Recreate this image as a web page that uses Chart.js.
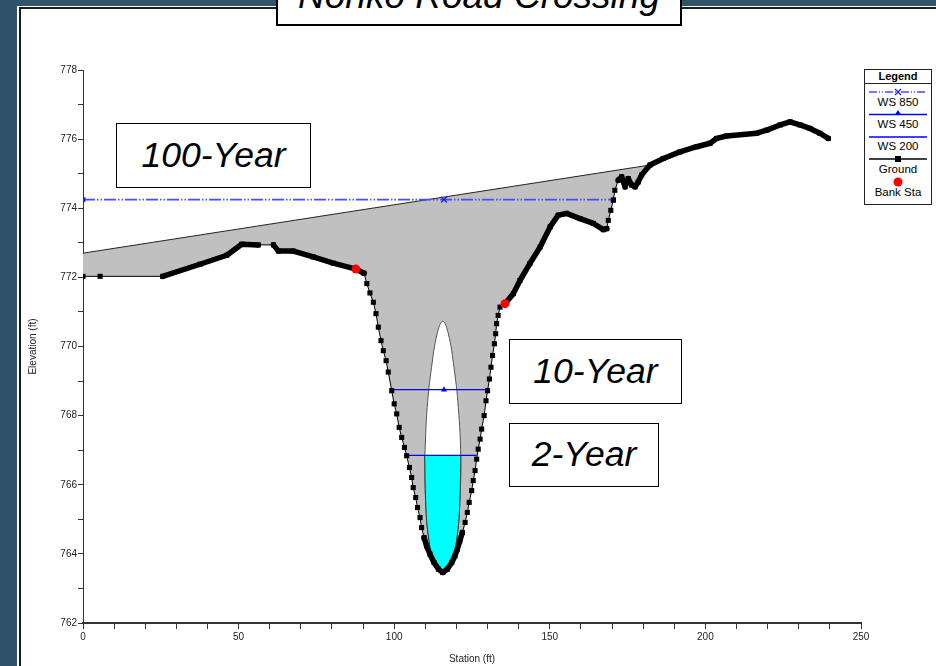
<!DOCTYPE html>
<html>
<head>
<meta charset="utf-8">
<script src="https://cdn.jsdelivr.net/npm/chart.js@4.4.1/dist/chart.umd.min.js"></script>
<style>
  html, body { margin: 0; padding: 0; }
  body { width: 936px; height: 666px; overflow: hidden; background: #2f5369; position: relative;
         font-family: 'Liberation Sans', Arial, sans-serif; }
  #panel { position: absolute; left: 17px; top: 6px; width: 940px; height: 680px; background: #fff; }
  #frame { position: absolute; left: 19px; top: 7px; width: 940px; height: 680px;
           border-left: 2px solid #1c1c1c; border-top: 2px solid #1c1c1c; }
  #chart { position: absolute; left: 0; top: 0; }
  .box { position: absolute; background: #fff; border: 1.5px solid #000; box-sizing: border-box;
         display: flex; align-items: center; justify-content: center;
         font-style: italic; font-size: 35.5px; line-height: 1; color: #000; }
  #title { position: absolute; left: 276px; top: -40px; width: 406px; height: 66px; background: #fff;
           border: 2px solid #000; box-sizing: border-box; }
  #title span { position: absolute; left: 0; right: 0; top: 15px; text-align: center;
                font-style: italic; font-size: 37px; line-height: 1; }
  #legend { position: absolute; left: 864px; top: 69px; }
</style>
</head>
<body>
<div id="panel"></div>
<div id="frame"></div>
<canvas id="chart" width="936" height="666"></canvas>

<div id="title"><span>Nohko Road Crossing</span></div>
<div class="box" style="left:116px;top:123px;width:195px;height:65px;">100-Year</div>
<div class="box" style="left:509px;top:339px;width:173px;height:65px;">10-Year</div>
<div class="box" style="left:509px;top:423px;width:150px;height:64px;">2-Year</div>

<svg id="legend" width="70" height="137" xmlns="http://www.w3.org/2000/svg"
     font-family="Liberation Sans, Arial, sans-serif" font-size="11.5" text-anchor="middle">
  <rect x="0.5" y="0.5" width="67" height="135" fill="#fff" stroke="#222" stroke-width="1"/>
  <text x="34" y="11" font-weight="bold" font-size="11">Legend</text>
  <line x1="0.5" y1="14.5" x2="67.5" y2="14.5" stroke="#222" stroke-width="1"/>
  <line x1="5" y1="23" x2="63" y2="23" stroke="#4b4bff" stroke-width="1.5" stroke-dasharray="8 2 1 2 1 2"/>
  <path d="M31 20 L37 26 M37 20 L31 26" stroke="#2020ff" stroke-width="1.3"/>
  <text x="34" y="36.5">WS 850</text>
  <line x1="5" y1="45.5" x2="63" y2="45.5" stroke="#0000ff" stroke-width="1.3"/>
  <path d="M31 45.5 L34 41 L37 45.5 Z" fill="#0000ff"/>
  <text x="34" y="59">WS 450</text>
  <line x1="5" y1="68" x2="63" y2="68" stroke="#0000ff" stroke-width="1.3"/>
  <text x="34" y="81">WS 200</text>
  <line x1="5" y1="90" x2="63" y2="90" stroke="#000" stroke-width="1.3"/>
  <rect x="31" y="87" width="6" height="6" fill="#000"/>
  <text x="34" y="103.5">Ground</text>
  <circle cx="34" cy="113" r="4.5" fill="#ff0000"/>
  <text x="34" y="127">Bank Sta</text>
</svg>

<script>
// cross section values (station ft, elevation ft)
const groundStation = [
  0, 5.5, 25.6, 37.6, 46.2, 51.0, 56.3, 61.2, 62.8, 67.6, 74.0, 80.4, 87.7, 90.3, 91.2, 92.2,
  93.3, 94.15, 94.9, 95.76, 96.5, 97.4, 98.1, 99.2, 100.0, 100.8, 101.6, 102.4, 103.3, 104.0,
  104.9, 105.6, 106.1, 106.9, 107.5, 108.3, 108.8, 109.6, 110.4, 111.5, 112.8, 114.2, 115.6,
  117.1, 118.5, 119.5, 120.3, 121.1, 121.9, 122.8, 123.5, 124.1, 124.9, 125.4, 126.0, 126.5,
  127.0, 127.6, 128.1, 128.9, 129.5, 130.0, 130.6, 131.1, 131.6, 132.2, 132.6, 132.9, 133.4,
  134.0, 135.6, 138.3, 140.4, 143.6, 146.9, 150.1, 152.7, 155.4, 159.7, 164.0, 167.2, 168.3,
  168.8, 169.6, 170.4, 170.9, 172.0, 173.1, 174.2, 175.2, 176.3, 177.4, 178.4, 179.5, 182.2,
  186.5, 191.8, 197.2, 201.5, 203.6, 206.8, 216.5, 219.7, 224.0, 227.2, 230.4, 233.6, 236.8, 239.5
];
const groundElev = [
  772.03, 772.03, 772.03, 772.38, 772.64, 772.96, 772.94, 772.94, 772.76, 772.76, 772.59, 772.41, 772.24, 772.12, 771.82, 771.55,
  771.28, 770.95, 770.56, 770.17, 769.88, 769.59, 769.26, 768.72, 768.34, 768.05, 767.66, 767.37, 767.08, 766.84,
  766.50, 766.21, 765.92, 765.63, 765.34, 765.05, 764.76, 764.47, 764.23, 763.99, 763.75, 763.56, 763.46,
  763.56, 763.75, 763.94, 764.14, 764.38, 764.62, 764.91, 765.20, 765.49, 765.83, 766.12, 766.41, 766.74,
  767.03, 767.32, 767.61, 768.00, 768.43, 768.72, 769.06, 769.40, 769.74, 770.08, 770.37, 770.66, 770.90,
  771.14, 771.24, 771.53, 771.91, 772.40, 772.88, 773.46, 773.80, 773.85, 773.70, 773.56, 773.38, 773.41,
  773.65, 773.94, 774.23, 774.52, 774.81, 774.91, 774.62, 774.86, 774.67, 774.62, 774.76, 774.96, 775.25,
  775.44, 775.63, 775.78, 775.88, 776.02, 776.09, 776.17, 776.26, 776.41, 776.50, 776.41, 776.31, 776.17, 776.02
];
const bankStation = [87.7, 135.6];
const bankElev = [772.24, 771.24];

const ws850Station = [0, 116, 170.5];
const ws850Elev = [774.25, 774.25, 774.25];
const ws450Station = [99.2, 116, 130.0];
const ws450Elev = [768.75, 768.75, 768.75];
const ws200Station = [104.0, 126.5];
const ws200Elev = [766.85, 766.85];

// road embankment top edge
const roadStation = [0, 182.2];
const roadElev = [772.7, 775.25];

// culvert opening outline, and its wetted part under WS 200
const culvertStation = [109.8, 110.1, 110.9, 112.7, 115.6, 118.5, 120.3, 121.1, 121.4, 120.6, 119.2, 117.4, 115.6, 113.8, 112.0, 110.6, 109.8];
const culvertElev = [766.79, 765.54, 764.57, 763.80, 763.46, 763.80, 764.57, 765.54, 766.79, 768.24, 769.40, 770.37, 770.73, 770.37, 769.40, 768.24, 766.79];
const waterStation = [109.8, 110.1, 110.9, 112.7, 115.6, 118.5, 120.3, 121.1, 121.4];
const waterElev = [766.85, 765.54, 764.57, 763.80, 763.46, 763.80, 764.57, 765.54, 766.85];

const xTicksLabelled = [0, 50, 100, 150, 200, 250];
const yTicksLabelled = [762, 764, 766, 768, 770, 772, 774, 776, 778];

// stations where the survey is dense enough that the ground looks like a heavy line
const denseRanges = [[25, 56.5], [61, 90.5], [109, 122.5], [135, 168.5], [171.5, 241]];

const pts = (xs, ys) => xs.map((x, i) => ({ x, y: ys[i] }));

function isDense(a, b) {
  return denseRanges.some(r => a >= r[0] && a <= r[1] && b >= r[0] && b <= r[1]);
}

const tickFont = { family: "'Liberation Sans Narrow', 'Liberation Sans', Arial", size: 10 };
const titleFont = { family: "'Liberation Sans', Arial", size: 10 };

new Chart(document.getElementById('chart').getContext('2d'), {
  type: 'line',
  data: {
    datasets: [
      { // 0
        label: 'Bank Sta',
        data: pts(bankStation, bankElev),
        showLine: false,
        pointStyle: 'circle',
        pointRadius: 4.5,
        pointBackgroundColor: '#ff0000',
        pointBorderWidth: 0
      },
      { // 1
        label: 'Ground',
        data: pts(groundStation, groundElev),
        borderColor: '#000',
        borderWidth: 1,
        borderJoinStyle: 'round',
        borderCapStyle: 'round',
        pointStyle: 'rect',
        pointRadius: 3.6,
        pointBackgroundColor: '#000',
        pointBorderWidth: 0,
        segment: {
          borderWidth: ctx => isDense(groundStation[ctx.p0DataIndex], groundStation[ctx.p1DataIndex]) ? 5.5 : 1
        }
      },
      { // 2
        label: 'WS 850',
        data: pts(ws850Station, ws850Elev),
        borderColor: '#4b4bff',
        borderWidth: 1.8,
        borderDash: [12, 2, 1.5, 2, 1.5, 2],
        pointStyle: ['rect', 'crossRot', 'rect'],
        pointRadius: [2.5, 4, 2.5],
        pointBackgroundColor: '#1f1fff',
        pointBorderColor: '#1f1fff',
        pointBorderWidth: 1.3
      },
      { // 3
        label: 'WS 450',
        data: pts(ws450Station, ws450Elev),
        borderColor: '#0000ff',
        borderWidth: 1.2,
        pointStyle: ['rect', 'triangle', 'rect'],
        pointRadius: [2.5, 3.5, 2.5],
        pointBackgroundColor: '#0000ff',
        pointBorderWidth: 0
      },
      { // 4
        label: 'WS 200',
        data: pts(ws200Station, ws200Elev),
        borderColor: '#0000ff',
        borderWidth: 1.2,
        pointRadius: 0
      },
      { // 5
        label: 'water',
        data: pts(waterStation, waterElev),
        borderColor: '#333',
        borderWidth: 1,
        backgroundColor: '#00ffff',
        fill: 'shape',
        tension: 0.4,
        pointRadius: 0
      },
      { // 6
        label: 'culvert',
        data: pts(culvertStation, culvertElev),
        borderColor: '#555',
        borderWidth: 1,
        backgroundColor: '#ffffff',
        fill: 'shape',
        tension: 0.4,
        pointRadius: 0
      },
      { // 7
        label: 'road',
        data: pts(roadStation, roadElev),
        borderColor: '#222',
        borderWidth: 1,
        backgroundColor: '#c0c0c0',
        fill: { target: 8 },
        pointRadius: 0
      },
      { // 8 plain copy of the ground, used only as the fill boundary
        label: 'ground base',
        data: pts(groundStation, groundElev),
        borderWidth: 0,
        borderColor: 'rgba(0,0,0,0)',
        pointRadius: 0
      }
    ]
  },
  options: {
    responsive: false,
    animation: false,
    events: [],
    layout: { padding: { left: 0, top: 70, right: 75, bottom: 0 } },
    plugins: {
      legend: { display: false },
      tooltip: { enabled: false }
    },
    scales: {
      x: {
        type: 'linear',
        min: 0,
        max: 250,
        afterFit: s => { s.height = 43; },
        border: { display: true, color: '#333', width: 2 },
        grid: { drawOnChartArea: false, drawTicks: true, tickLength: 6, tickColor: '#333' },
        ticks: {
          stepSize: 10,
          autoSkip: false,
          maxRotation: 0,
          padding: 2,
          color: '#222',
          font: tickFont,
          callback: v => xTicksLabelled.includes(v) ? String(v) : ''
        },
        title: { display: true, text: 'Station (ft)', color: '#222', font: titleFont, padding: { top: 0, bottom: 1 } }
      },
      y: {
        min: 762,
        max: 778,
        afterFit: s => { s.width = 83; },
        border: { display: true, color: '#333', width: 1 },
        grid: { drawOnChartArea: false, drawTicks: true, tickLength: 5, tickColor: '#333' },
        ticks: {
          stepSize: 1,
          autoSkip: false,
          padding: 1,
          color: '#222',
          font: tickFont,
          callback: v => yTicksLabelled.includes(v) ? String(v) : ''
        },
        title: { display: true, text: 'Elevation (ft)', color: '#222', font: titleFont, padding: { top: 27, bottom: 0 } }
      }
    }
  }
});
</script>
</body>
</html>
